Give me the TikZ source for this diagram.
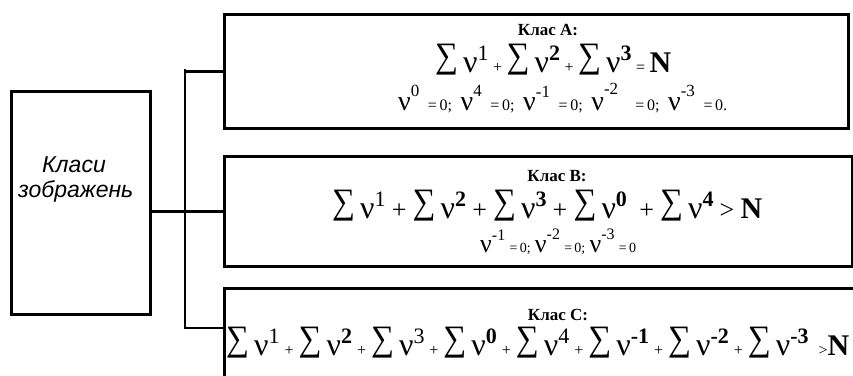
\documentclass[tikz,border=0pt]{standalone}
\usepackage{fontspec}
\setmainfont{Liberation Serif}
\newfontfamily\gost{Liberation Sans}
\newcommand\fs[1]{\fontsize{#1}{#1}\selectfont}
\newcommand\Sm{\raisebox{\dimexpr\depth-3pt\relax}{\resizebox*{23pt}{31pt}{∑}}}
\newcommand\Tm[2]{\Sm\hspace{5pt}{\fs{32}ν}\raisebox{12pt}{\fs{22}#1#2}}
\newcommand\Nu[4]{{\fs{#1}ν}\raisebox{#2}{\fs{#3}#4}}
\newcommand\gp{\hspace{0pt plus 1fil}}
\begin{document}
\begin{tikzpicture}[x=1pt,y=-1pt,
  box/.style={draw, line width=2.6pt, inner sep=0pt, anchor=north west},
  ln/.style={line width=2.6pt},
  txt/.style={inner sep=0pt, anchor=base west},
  ttl/.style={inner sep=0pt, anchor=base, font=\fs{17}\bfseries}]
\useasboundingbox (0,0) rectangle (853,375);
\clip (0,0) rectangle (853,375);
\node[box, minimum width=139pt, minimum height=223pt] (cls) at (10,90) {};
\node[anchor=base west, inner sep=0pt, font=\gost\itshape\fs{23}] (l1) at (42,172) {Класи};
\node[anchor=base west, inner sep=0pt, font=\gost\itshape\fs{23}] (l2) at (18,197) {зображень};
\node[box, minimum width=624pt, minimum height=114pt] (bA) at (223,13) {};
\node[box, minimum width=628pt, minimum height=110pt] (bB) at (223,155) {};
\node[box, minimum width=660pt, minimum height=130pt] (bC) at (223,287) {};
\coordinate (cIn) at (223,328);
\coordinate (busA) at (185,69);
% connectors
\draw[ln] (cls.east |- bB.west) -- (bB.west);
\draw[ln] (bA.west) -| (busA) |- (cIn);
% Class A
\node[ttl] (tA) at (548,35) {Клас А:};
\node[txt] (fA) at (435,72) {\makebox[236pt][s]{\Tm{}{1}\gp{\fs{16}+}\gp\Tm{\bfseries}{2}\gp{\fs{16}+}\gp\Tm{\bfseries}{3}\gp{\fs{16}=}\gp{\fs{30}\bfseries N}}};
\node[txt] (cA) at (398,110) {\makebox[329pt][s]{\Nu{28}{14pt}{17}{0}\gp{\fs{16}=\,0;}\gp\Nu{28}{14pt}{17}{4}\gp{\fs{16}=\,0;}\gp\Nu{28}{13pt}{17}{-1}\gp{\fs{16}=\,0;}\gp\Nu{28}{16pt}{17}{-2}\gp\gp{\fs{16}=\,0;}\gp\Nu{28}{14pt}{17}{-3}\gp{\fs{16}=\,0.}}};
% Class B
\node[ttl] (tB) at (557,181) {Клас В:};
\node[txt] (fB) at (332,218) {\makebox[430pt][s]{\Tm{}{1}\gp{\fs{26}+}\gp\Tm{\bfseries}{2}\gp{\fs{26}+}\gp\Tm{\bfseries}{3}\gp{\fs{26}+}\gp\Tm{\bfseries}{0}\gp\gp{\fs{26}+}\gp\Tm{\bfseries}{4}\gp{\fs{26}>}\gp{\fs{30}\bfseries N}}};
\node[txt] (cB) at (480,252) {\makebox[156pt][s]{\Nu{26}{12pt}{16}{-1}\gp{\fs{14}=\,0;}\gp\Nu{26}{13pt}{16}{-2}\gp{\fs{14}=\,0;}\gp\Nu{26}{13pt}{16}{-3}\gp{\fs{14}=\,0}}};
% Class C
\node[ttl] (tC) at (558,320) {Клас С:};
\node[txt] (fC) at (226,355) {\makebox[623pt][s]{\Tm{}{1}\gp{\fs{16}+}\gp\Tm{\bfseries}{2}\gp{\fs{16}+}\gp\Tm{}{3}\gp{\fs{16}+}\gp\Tm{\bfseries}{0}\gp{\fs{16}+}\gp\Tm{}{4}\gp{\fs{16}+}\gp\Tm{\bfseries}{-1}\gp{\fs{16}+}\gp\Tm{\bfseries}{-2}\gp{\fs{16}+}\gp\Tm{\bfseries}{-3}\gp\gp{\fs{16}>}{\fs{30}\bfseries N}}};
\end{tikzpicture}
\end{document}
